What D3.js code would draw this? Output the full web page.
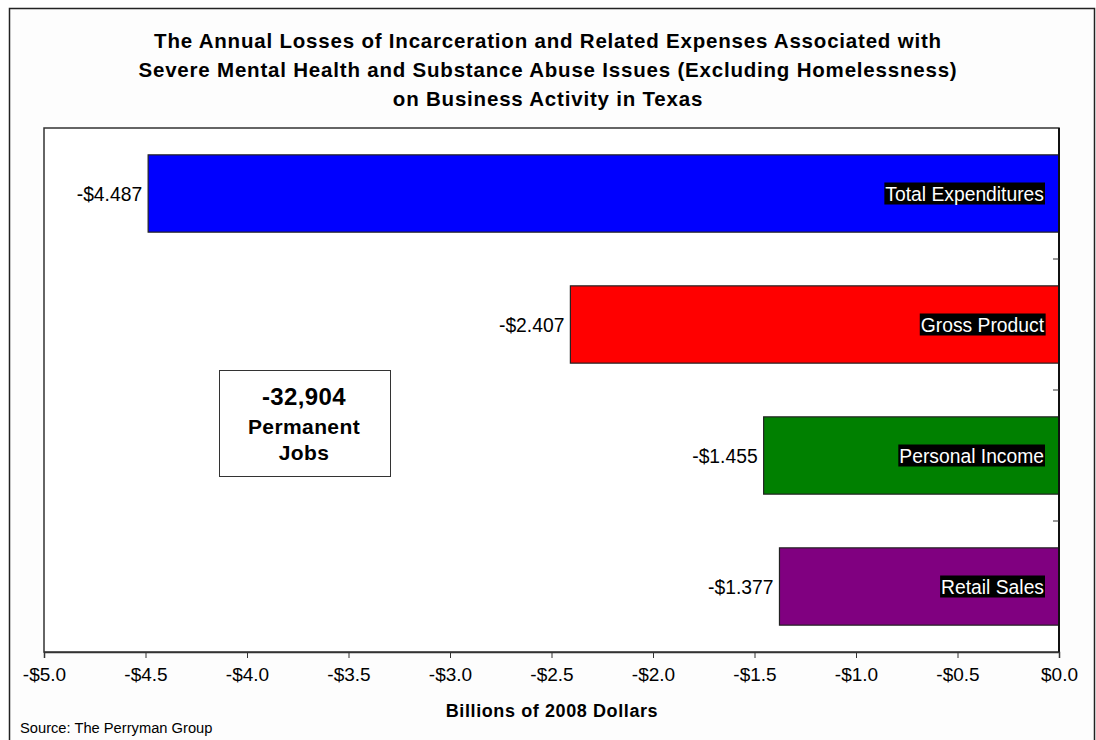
<!DOCTYPE html>
<html>
<head>
<meta charset="utf-8">
<script src="https://cdn.jsdelivr.net/npm/d3@7/dist/d3.min.js"></script>
<style>
  html, body { margin: 0; padding: 0; background: #ffffff; }
  svg { display: block; font-family: "Liberation Sans", Arial, sans-serif; }
</style>
</head>
<body>
<svg id="chart" width="1096" height="740"></svg>
<script>
// Economic impact measures (billions of 2008 dollars)
const categories = ["Total Expenditures", "Gross Product", "Personal Income", "Retail Sales"];
const values = [-4.487, -2.407, -1.455, -1.377];
const colors = ["#0000ff", "#ff0000", "#008000", "#800080"];
const xTicks = [-5.0, -4.5, -4.0, -3.5, -3.0, -2.5, -2.0, -1.5, -1.0, -0.5, 0.0];
const titleLines = [
  "The Annual Losses of Incarceration and Related Expenses Associated with",
  "Severe Mental Health and Substance Abuse Issues (Excluding Homelessness)",
  "on Business Activity in Texas"
];
const jobsLines = ["-32,904", "Permanent", "Jobs"];

const svg = d3.select("#chart");
const plot = { left: 44, top: 128, right: 1059, bottom: 652 };

// Outer chart frame
svg.append("rect")
  .attr("x", 9.5).attr("y", 8.5).attr("width", 1085).attr("height", 740)
  .attr("fill", "#fdfdfd").attr("stroke", "#222").attr("stroke-width", 1.5);

// Title
svg.append("g").selectAll("text").data(titleLines).join("text")
  .attr("x", 548).attr("y", (d, i) => 48 + i * 29)
  .attr("text-anchor", "middle")
  .attr("font-size", 20.5).attr("letter-spacing", 0.8)
  .attr("font-weight", "bold").attr("fill", "#000")
  .text(d => d);

const x = d3.scaleLinear().domain([-5, 0]).range([plot.left, plot.right]);
const y = d3.scaleBand().domain(categories).range([plot.top, plot.bottom]).paddingInner(0.41).paddingOuter(0.205);
const yBand = d3.scaleBand().domain(categories).range([plot.top, plot.bottom]);

// Plot area
svg.append("rect")
  .attr("x", plot.left).attr("y", plot.top)
  .attr("width", plot.right - plot.left).attr("height", plot.bottom - plot.top)
  .attr("fill", "#ffffff").attr("stroke", "#333").attr("stroke-width", 1.5);

// Bars
svg.append("g").selectAll("rect").data(values).join("rect")
  .attr("x", d => x(d))
  .attr("y", (d, i) => y(categories[i]))
  .attr("width", d => x(0) - x(d))
  .attr("height", y.bandwidth())
  .attr("fill", (d, i) => colors[i])
  .attr("stroke", "#222").attr("stroke-width", 1.2);

// Value labels left of each bar
svg.append("g").selectAll("text").data(values).join("text")
  .attr("x", d => x(d) - 6)
  .attr("y", (d, i) => y(categories[i]) + y.bandwidth() / 2 + 7)
  .attr("text-anchor", "end")
  .attr("font-size", 19.3).attr("fill", "#000")
  .text(d => "-$" + Math.abs(d).toFixed(3));

// Category labels inside bars: white text on black
const catG = svg.append("g");
categories.forEach((c, i) => {
  const cy = y(c) + y.bandwidth() / 2;
  const t = catG.append("text")
    .attr("x", x(0) - 15)
    .attr("y", cy + 7)
    .attr("text-anchor", "end")
    .attr("font-size", 19.3).attr("fill", "#fff")
    .text(c);
  const bb = t.node().getBBox();
  catG.insert("rect", "text")
    .attr("x", bb.x - 1).attr("y", cy - 11)
    .attr("width", bb.width + 2).attr("height", 22)
    .attr("fill", "#000");
});

// Right-hand category axis (zero line) with band-boundary ticks
const yAxisG = svg.append("g");
yAxisG.append("line")
  .attr("x1", x(0)).attr("x2", x(0)).attr("y1", plot.top).attr("y2", plot.bottom)
  .attr("stroke", "#111").attr("stroke-width", 2);
yAxisG.selectAll("line.tick").data(categories.slice(1)).join("line")
  .attr("class", "tick")
  .attr("x1", x(0) - 6).attr("x2", x(0))
  .attr("y1", d => yBand(d)).attr("y2", d => yBand(d))
  .attr("stroke", "#333").attr("stroke-width", 1);

// Bottom value axis
const xAxis = d3.axisBottom(x).tickValues(xTicks).tickSize(6).tickPadding(10)
  .tickFormat(d => (d < 0 ? "-$" : "$") + Math.abs(d).toFixed(1));
const xg = svg.append("g").attr("transform", `translate(0,${plot.bottom})`).call(xAxis);
xg.select(".domain").attr("stroke", "#333").attr("stroke-width", 1.5);
xg.selectAll(".tick line").attr("stroke", "#333");
xg.selectAll(".tick text").attr("font-size", 19).attr("fill", "#000")
  .attr("font-family", "Liberation Sans, Arial, sans-serif");

// Axis title
svg.append("text")
  .attr("x", 552).attr("y", 717)
  .attr("text-anchor", "middle")
  .attr("font-size", 18).attr("letter-spacing", 0.6)
  .attr("font-weight", "bold").attr("fill", "#000")
  .text("Billions of 2008 Dollars");

// Source note
svg.append("text")
  .attr("x", 20).attr("y", 733)
  .attr("font-size", 14.7).attr("fill", "#000")
  .text("Source: The Perryman Group");

// Jobs callout box
svg.append("rect")
  .attr("x", 219.5).attr("y", 370.5).attr("width", 171).attr("height", 106)
  .attr("fill", "#fff").attr("stroke", "#333").attr("stroke-width", 1);
svg.append("g").selectAll("text").data(jobsLines).join("text")
  .attr("x", 304).attr("y", (d, i) => [405, 434, 460][i])
  .attr("text-anchor", "middle")
  .attr("font-weight", "bold").attr("fill", "#000")
  .attr("font-size", (d, i) => i === 0 ? 24 : 21)
  .attr("letter-spacing", 0.4)
  .text(d => d);
</script>
</body>
</html>
